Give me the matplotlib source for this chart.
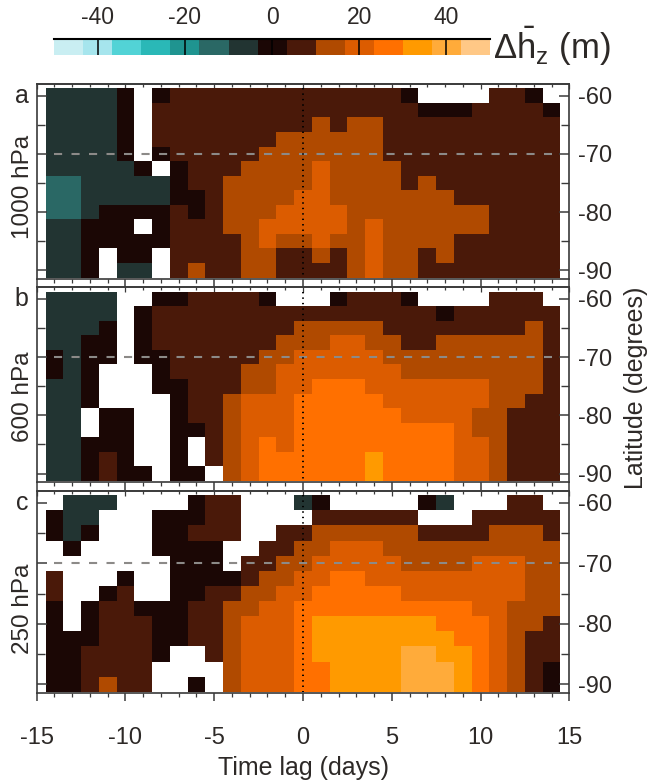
import numpy as np
import matplotlib
matplotlib.use("Agg")
import matplotlib.pyplot as plt
import matplotlib.transforms as mtransforms
from matplotlib.colors import ListedColormap, BoundaryNorm
from matplotlib.cm import ScalarMappable
from matplotlib.ticker import MultipleLocator

N = np.nan

# --- data: composite height anomaly (m), white = not significant ---
lags = [-14, -13, -12, -11, -10, -9, -8, -7, -6, -5, -4, -3, -2, -1, 0,
        1, 2, 3, 4, 5, 6, 7, 8, 9, 10, 11, 12, 13, 14]
lats = [-60, -62.5, -65, -67.5, -70, -72.5, -75, -77.5, -80, -82.5, -85, -87.5, -90]

dz_1000 = [
    [-7, -7, -7, -7, 0, N, 0, 7, 7, 7, 7, 7, 7, 7, 7, 7, 7, 7, 7, 7, 0, N, N, N, N, 7, 7, 0, N],
    [-7, -7, -7, -7, 0, N, 7, 7, 7, 7, 7, 7, 7, 7, 7, 7, 7, 7, 7, 7, 7, 0, 0, 0, 7, 7, 7, 7, 0],
    [-7, -7, -7, -7, 0, N, 7, 7, 7, 7, 7, 7, 7, 7, 7, 13, 7, 13, 13, 7, 7, 7, 7, 7, 7, 7, 7, 7, 7],
    [-7, -7, -7, -7, 0, N, 7, 7, 7, 7, 7, 7, 7, 13, 13, 13, 13, 13, 13, 7, 7, 7, 7, 7, 7, 7, 7, 7, 7],
    [-7, -7, -7, -7, 0, N, 0, 7, 7, 7, 7, 7, 13, 13, 13, 13, 13, 13, 13, 7, 7, 7, 7, 7, 7, 7, 7, 7, 7],
    [-7, -7, -7, -7, -7, 0, N, 0, 7, 7, 7, 13, 13, 13, 13, 20, 13, 13, 13, 13, 7, 7, 7, 7, 7, 7, 7, 7, 7],
    [-13, -13, -7, -7, -7, -7, -7, 0, 7, 7, 13, 13, 13, 13, 13, 20, 13, 13, 13, 13, 7, 13, 7, 7, 7, 7, 7, 7, 7],
    [-13, -13, -7, -7, -7, -7, -7, 0, 0, 7, 13, 13, 13, 13, 20, 20, 13, 13, 13, 13, 13, 13, 13, 7, 7, 7, 7, 7, 7],
    [-13, -13, -7, 0, 0, 0, 0, 7, 0, 7, 13, 13, 13, 20, 20, 20, 20, 13, 13, 13, 13, 13, 13, 13, 13, 7, 7, 7, 7],
    [-7, -7, 0, 0, 0, N, 0, 7, 7, 7, 13, 13, 20, 20, 20, 20, 20, 13, 20, 13, 13, 13, 13, 13, 13, 7, 7, 7, 7],
    [-7, -7, 0, 0, 0, 0, 0, 7, 7, 7, 7, 13, 20, 13, 13, 20, 13, 13, 20, 13, 13, 13, 13, 7, 7, 7, 7, 7, 7],
    [-7, -7, 0, N, 0, 0, N, 7, 7, 7, 7, 13, 13, 7, 7, 13, 7, 13, 20, 13, 13, 7, 13, 7, 7, 7, 7, 7, 7],
    [-7, -7, 0, N, -7, -7, N, 7, 13, 7, 7, 13, 13, 7, 7, 7, 7, 13, 20, 13, 13, 7, 7, 7, 7, 7, 7, 7, 7],
]

dz_600 = [
    [-7, -7, -7, -7, N, N, 0, 0, 7, 7, 7, 7, 0, N, N, N, 0, 7, 7, 7, 0, N, N, N, N, 7, 7, 7, N],
    [-7, -7, -7, -7, N, 0, 7, 7, 7, 7, 7, 7, 7, 7, 7, 7, 7, 7, 7, 7, 7, 7, 0, 7, 7, 7, 7, 7, 7],
    [-7, -7, -7, 0, N, 0, 7, 7, 7, 7, 7, 7, 7, 7, 13, 13, 13, 13, 13, 7, 7, 7, 7, 7, 7, 7, 7, 13, 7],
    [-7, -7, 0, 0, N, 0, 7, 7, 7, 7, 7, 7, 7, 13, 13, 13, 20, 20, 13, 13, 7, 7, 13, 13, 13, 13, 13, 13, 7],
    [0, -7, 0, 0, N, 0, 0, 7, 7, 7, 7, 7, 13, 13, 20, 20, 20, 20, 20, 13, 13, 13, 13, 13, 13, 13, 13, 13, 7],
    [0, -7, 0, N, N, N, 0, 7, 7, 7, 7, 13, 13, 20, 20, 20, 20, 20, 20, 20, 13, 13, 13, 13, 13, 13, 13, 13, 7],
    [-7, -7, 0, N, N, N, 0, 0, 7, 7, 7, 13, 13, 20, 20, 27, 27, 27, 20, 20, 20, 20, 20, 20, 20, 13, 13, 13, 7],
    [-7, -7, 0, N, N, N, N, 0, 7, 7, 13, 20, 20, 20, 27, 27, 27, 27, 27, 20, 20, 20, 20, 20, 20, 13, 13, 7, 7],
    [-7, -7, N, 0, 0, N, N, 0, 7, 7, 13, 20, 20, 20, 27, 27, 27, 27, 27, 27, 20, 20, 20, 20, 13, 13, 7, 7, 7],
    [-7, -7, N, 0, 0, N, N, 0, 0, 7, 13, 20, 20, 20, 27, 27, 27, 27, 27, 27, 27, 27, 27, 20, 13, 13, 7, 7, 7],
    [-7, -7, 0, 0, 0, N, N, 0, N, 7, 13, 20, 27, 20, 27, 27, 27, 27, 27, 27, 27, 27, 27, 20, 20, 13, 7, 7, 7],
    [-7, -7, 0, 7, 0, N, N, 0, N, 7, 13, 20, 27, 27, 27, 27, 27, 27, 33, 27, 27, 27, 27, 20, 20, 13, 7, 7, 7],
    [-7, -7, 0, 7, 0, 0, N, 0, 0, N, 13, 20, 27, 27, 27, 27, 27, 27, 33, 27, 27, 27, 27, 20, 20, 13, 7, 7, 7],
]

dz_250 = [
    [N, -7, -7, -7, N, N, N, N, 0, 7, 7, N, N, N, -7, 0, N, N, N, N, N, 0, -7, N, N, N, 7, 7, N],
    [0, -7, -7, N, N, N, 0, 0, 0, 7, 7, N, N, N, N, 7, 7, 7, 7, 7, 7, N, N, N, 7, 7, 7, 7, 7],
    [0, -7, 0, N, N, N, 0, 0, 7, 7, 7, N, N, 7, 7, 13, 13, 13, 13, 13, 13, 7, 7, 7, 7, 13, 13, 13, 7],
    [N, 0, N, N, N, N, 0, 0, 0, 0, N, N, 7, 7, 13, 13, 20, 20, 20, 13, 13, 13, 13, 13, 13, 13, 13, 13, 13],
    [N, N, N, N, N, N, N, 0, 0, 0, N, 7, 7, 13, 13, 20, 20, 20, 20, 20, 13, 13, 13, 13, 20, 20, 20, 13, 13],
    [7, N, N, N, 0, N, N, 0, 0, 0, 0, 7, 13, 13, 20, 20, 27, 27, 20, 20, 20, 20, 20, 20, 20, 20, 20, 13, 13],
    [7, N, N, 0, 7, N, N, 0, 0, 7, 7, 13, 13, 20, 20, 27, 27, 27, 27, 27, 20, 20, 20, 20, 20, 20, 20, 13, 13],
    [0, N, 0, 7, 7, 0, 0, 0, 7, 7, 13, 13, 20, 20, 27, 27, 27, 27, 27, 27, 27, 27, 27, 27, 20, 20, 13, 13, 13],
    [0, N, 0, 7, 7, 7, 0, 0, 7, 7, 13, 20, 20, 20, 27, 33, 33, 33, 33, 33, 33, 33, 27, 27, 27, 20, 13, 13, 7],
    [0, 0, 0, 7, 7, 7, 0, 0, 7, 7, 13, 20, 20, 20, 27, 33, 33, 33, 33, 33, 33, 33, 33, 27, 27, 20, 13, 7, 7],
    [0, 0, 7, 7, 7, 7, 0, N, N, 7, 13, 20, 20, 20, 27, 33, 33, 33, 33, 33, 40, 40, 33, 33, 27, 20, 13, 7, 7],
    [0, 0, 7, 7, 7, 7, N, N, N, N, 13, 20, 20, 20, 27, 27, 33, 33, 33, 33, 40, 40, 40, 33, 27, 20, 13, 7, 0],
    [0, 0, 7, 13, 7, 7, N, N, 0, N, 13, 20, 20, 20, 27, 27, 33, 33, 33, 33, 40, 40, 40, 33, 27, 20, 13, 7, 0],
]

panels = [("a", "1000 hPa", dz_1000), ("b", "600 hPa", dz_600), ("c", "250 hPa", dz_250)]
level_label_lat = [-75.7, -76.8, -77.5]

cbar_colors = ["#c9eef2", "#a6e5ed", "#52d3d6", "#2ab8b7", "#1f9490", "#2a6865",
               "#223432", "#1b0705", "#4a1909", "#b04a00", "#dc5c00", "#ff7000",
               "#ff9a00", "#ffab3a", "#ffc886"]
cbar_ticks = [-40, -20, 0, 20, 40]

plt.rcParams["font.family"] = ["Liberation Sans", "DejaVu Sans"]
plt.rcParams["axes.unicode_minus"] = False
plt.rcParams["mathtext.fontset"] = "custom"
plt.rcParams["mathtext.rm"] = "Liberation Sans"
plt.rcParams["mathtext.it"] = "Liberation Sans"
TXT = "#2d2927"
SP = "#3a3a3a"

W, H = 652, 784


def box(l, t, r, b):
    return [l / W, 1 - b / H, (r - l) / W, (b - t) / H]


cmap = ListedColormap(cbar_colors)
norm = BoundaryNorm(np.linspace(-50, 50, len(cbar_colors) + 1), cmap.N)

lag_arr = np.array(lags, float)
lat_arr = np.array(lats, float)
xe = np.r_[lag_arr - 0.5, lag_arr[-1] + 0.5]
ye = np.r_[lat_arr + 1.25, lat_arr[-1] - 1.25]

fig = plt.figure(figsize=(6.52, 7.84), dpi=100)
boxes = [box(36.7, 84, 569.3, 279), box(36.7, 287.3, 569.3, 482.3), box(36.7, 490.7, 569.3, 693.3)]

for i, (letter, lev, Z) in enumerate(panels):
    ax = fig.add_axes(boxes[i])
    Z = np.ma.masked_invalid(np.array(Z, float))
    ax.pcolormesh(xe, ye, Z, cmap=cmap, norm=norm, shading="flat",
                  antialiased=False, linewidth=0)
    ax.plot([-14, 14], [-70, -70], color="#8c8a88", lw=1.5, ls=(0, (3.9, 4.5)))
    ax.plot([0, 0], [ye[0], ye[-1]], color="k", lw=1.4, ls=(0, (0.7, 2.1)))
    ax.set_xlim(-15, 15)
    ax.set_ylim(-91.5, -58)

    for s in ax.spines.values():
        s.set_color(SP)
        s.set_linewidth(1.2)
    ax.xaxis.set_major_locator(MultipleLocator(5))
    ax.xaxis.set_minor_locator(MultipleLocator(1))
    ax.yaxis.set_major_locator(MultipleLocator(10))
    ax.yaxis.set_minor_locator(MultipleLocator(5))
    ax.tick_params(axis="x", which="both", direction="out", top=False, color=SP,
                   labelbottom=(i == 2), labelsize=17, labelcolor=TXT, pad=18)
    ax.tick_params(axis="x", which="major", length=6, width=1.1)
    ax.tick_params(axis="x", which="minor", length=3, width=0.9)
    ax.tick_params(axis="y", which="both", direction="in", left=True, right=True,
                   labelleft=False, labelright=True, color=SP, labelsize=17,
                   labelcolor=TXT, pad=6)
    ax.tick_params(axis="y", which="major", length=7, width=1.1)
    ax.tick_params(axis="y", which="minor", length=6, width=1.0)

    top = ax.secondary_xaxis("top")
    top.xaxis.set_major_locator(MultipleLocator(5))
    top.xaxis.set_minor_locator(MultipleLocator(1))
    top.tick_params(which="both", direction="in", labeltop=False, color=SP, width=0.9)
    top.tick_params(which="major", length=3.5)
    top.tick_params(which="minor", length=2.5)
    top.spines["top"].set_color(SP)
    top.spines["top"].set_linewidth(1.2)

    tr = mtransforms.blended_transform_factory(ax.transAxes, ax.transData)
    ax.text(-0.028, -60, letter, transform=tr, ha="center", va="center",
            fontsize=18, color=TXT)
    ax.text(-0.026, level_label_lat[i], lev, transform=tr, rotation=90,
            ha="center", va="center", fontsize=17.5, color=TXT)

# colour bar
cax = fig.add_axes(box(54.3, 39, 489.8, 55))
cb = fig.colorbar(ScalarMappable(norm=norm, cmap=cmap), cax=cax,
                  orientation="horizontal", ticks=cbar_ticks)
cb.outline.set_visible(False)
cax.xaxis.set_ticks_position("top")
cax.minorticks_off()
cax.tick_params(axis="x", direction="in", length=11.5, width=1.1, color="k",
                pad=7, labelsize=16.5, labelcolor=TXT)
cax.plot([0, 1], [1, 1], transform=cax.transAxes, color="k", lw=1.5, clip_on=False)

fig.text(493 / W, 1 - 46 / H, r"$\Delta\bar{\mathrm{h}}_{\mathrm{z}}$ (m)",
         fontsize=25, va="center", ha="left", color=TXT)
fig.text(636 / W, 1 - 388 / H, "Latitude (degrees)", rotation=90,
         ha="center", va="center", fontsize=18, color=TXT)
fig.text(303 / W, 1 - 768 / H, "Time lag (days)", ha="center", va="center",
         fontsize=18, color=TXT)

fig.savefig("out.png", dpi=100)
